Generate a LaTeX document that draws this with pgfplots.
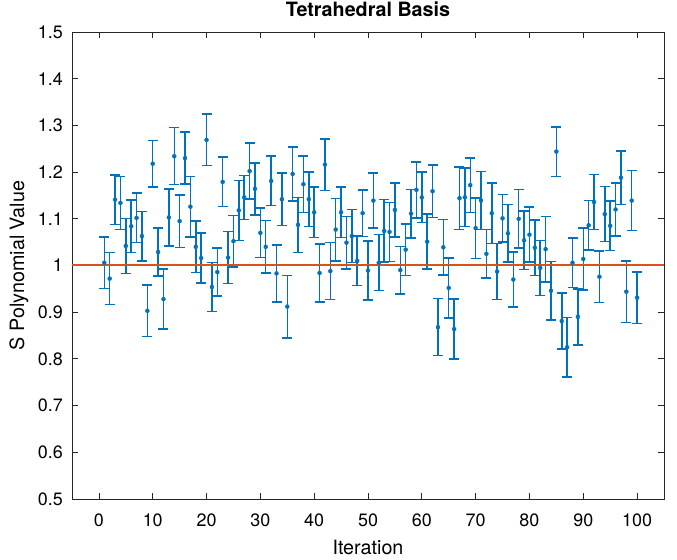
\documentclass[border=0pt]{standalone}
\usepackage{pgfplots}
\pgfplotsset{compat=1.18}
\usepackage{pgfplotstable}
\usepackage{fontspec}
\setmainfont{TeX Gyre Heros}
\definecolor{matblue}{rgb}{0,0.447,0.741}
\definecolor{matorange}{rgb}{0.85,0.325,0.098}
\definecolor{axgray}{rgb}{0.15,0.15,0.15}
\pgfplotstableread{
x y e
1 1.006 0.055
2 0.972 0.056
3 1.141 0.053
4 1.134 0.057
5 1.042 0.059
6 1.084 0.056
7 1.102 0.053
8 1.063 0.053
9 0.903 0.055
10 1.218 0.050
11 1.029 0.051
12 0.928 0.064
13 1.103 0.061
14 1.234 0.061
15 1.095 0.056
16 1.230 0.056
17 1.126 0.065
18 1.040 0.055
19 1.016 0.054
20 1.269 0.055
21 0.954 0.052
22 0.986 0.051
23 1.179 0.053
24 1.017 0.056
25 1.052 0.055
26 1.118 0.064
27 1.146 0.047
28 1.202 0.060
29 1.164 0.056
30 1.070 0.053
31 1.040 0.056
32 1.181 0.053
33 0.983 0.061
34 1.142 0.056
35 0.912 0.067
36 1.196 0.058
37 1.087 0.059
38 1.174 0.060
39 1.142 0.058
40 1.114 0.054
41 0.984 0.062
42 1.216 0.055
43 0.988 0.061
44 1.077 0.067
45 1.114 0.054
46 1.049 0.056
47 1.063 0.057
48 1.010 0.053
49 1.112 0.050
50 0.989 0.063
51 1.139 0.059
52 1.006 0.060
53 1.074 0.067
54 1.072 0.063
55 1.119 0.058
56 0.990 0.051
57 1.034 0.055
58 1.111 0.052
59 1.162 0.060
60 1.146 0.054
61 1.051 0.059
62 1.159 0.056
63 0.868 0.061
64 1.039 0.059
65 0.952 0.064
66 0.864 0.064
67 1.144 0.067
68 1.146 0.063
69 1.172 0.058
70 1.080 0.065
71 1.139 0.062
72 1.025 0.052
73 1.112 0.065
74 0.987 0.060
75 1.101 0.051
76 1.069 0.062
77 0.970 0.059
78 1.100 0.063
79 1.054 0.063
80 1.066 0.059
81 1.038 0.059
82 0.995 0.059
83 1.035 0.070
84 0.946 0.063
85 1.244 0.053
86 0.881 0.060
87 0.825 0.064
88 1.006 0.053
89 0.890 0.060
90 1.014 0.066
91 1.086 0.053
92 1.136 0.059
93 0.976 0.055
94 1.110 0.059
95 1.085 0.053
96 1.120 0.057
97 1.188 0.057
98 0.944 0.066
99 1.139 0.064
100 0.931 0.055
}\datatable
\pgfplotstableread{
x y
-5 1
105 1
}\reftable
\begin{document}
\begin{tikzpicture}
\path[use as bounding box] (-72bp,-61bp) rectangle (605bp,499bp);
\begin{axis}[
  at={(0,0)}, anchor=south west,
  scale only axis, width=592bp, height=467bp,
  xmin=-5, xmax=105, ymin=0.5, ymax=1.5,
  xtick={0,10,20,30,40,50,60,70,80,90,100},
  ytick={0.5,0.6,0.7,0.8,0.9,1,1.1,1.2,1.3,1.4,1.5},
  yticklabels={0.5,0.6,0.7,0.8,0.9,1,1.1,1.2,1.3,1.4,1.5},
  xtick pos=both, ytick pos=both,
  xticklabel pos=bottom, yticklabel pos=left,
  tick align=inside, major tick length=6bp,
  axis line style={color=axgray, line width=0.8bp},
  major tick style={color=axgray, line width=0.8bp},
  /pgf/number format/assume math mode=true,
  tick label style={font=\fontsize{18}{20}\selectfont},
  xticklabel style={anchor=base, yshift=-27.5bp, inner sep=0pt},
  yticklabel style={anchor=east, xshift=-9bp, inner sep=0pt},
  title={Tetrahedral Basis},
  title style={at={(axis description cs:0.5,1.0203)}, anchor=base, font=\bfseries\fontsize{19.8}{22}\selectfont},
  xlabel={Iteration},
  xlabel style={at={(axis description cs:0.5,-0.1178)}, anchor=base, font=\fontsize{19.8}{22}\selectfont},
  ylabel={S Polynomial Value},
  ylabel style={at={(axis description cs:-0.0895,0.5)}, anchor=center, font=\fontsize{19.8}{22}\selectfont},
  clip=false,
]
\addplot[only marks, color=matblue, mark=*, mark size=2bp,
  mark options={color=matblue, fill=matblue},
  error bars/.cd, y dir=both, y explicit,
  error bar style={color=matblue, line width=1.5bp},
  error mark options={rotate=90, mark size=5bp, color=matblue, line width=1.5bp}]
  table[x=x, y=y, y error=e] {\datatable};
\addplot[color=matorange, line width=2bp, mark=none] table[x=x, y=y] {\reftable};
\end{axis}
\end{tikzpicture}
\end{document}
